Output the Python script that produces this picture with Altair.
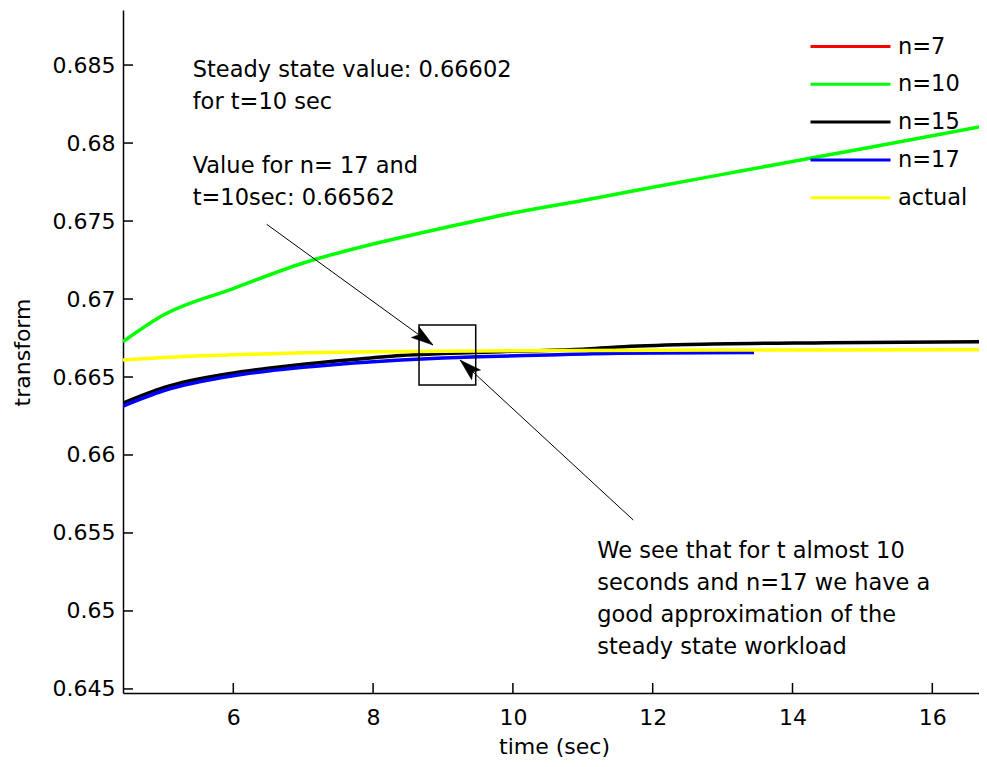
import altair as alt
import pandas as pd

# ---------------- data ----------------
series_names = ["n=7", "n=10", "n=15", "n=17", "actual"]
series_colors = ["#ff0000", "#00ff00", "#000000", "#0000ff", "#ffff00"]

t_n10 = [4.422, 5.0, 6.0, 7.0, 8.0, 9.0, 10.0, 11.0, 12.0, 13.0, 14.0, 15.0, 16.0, 16.782]
v_n10 = [0.66726, 0.66897, 0.67067, 0.67231, 0.67353, 0.67455, 0.67551, 0.67632, 0.67716,
         0.67799, 0.67882, 0.67964, 0.68047, 0.68113]

t_n15 = [4.422, 5.0, 6.0, 6.5, 7.0, 8.0, 8.4, 9.0, 10.0, 11.0, 11.5, 12.5, 14.5, 16.782]
v_n15 = [0.66333, 0.66432, 0.66526, 0.66556, 0.66582, 0.66624, 0.66638, 0.66650, 0.66665,
         0.66678, 0.66692, 0.66708, 0.66720, 0.66727]

t_n17 = [4.422, 5.0, 6.0, 6.5, 7.0, 8.0, 8.4, 9.0, 9.5, 10.5, 11.5, 13.45]
v_n17 = [0.66314, 0.66412, 0.66508, 0.66538, 0.66562, 0.66598, 0.66609, 0.66622, 0.66630,
         0.66641, 0.66652, 0.66657]

t_act = [4.422, 5.0, 6.0, 7.0, 8.0, 10.0, 12.0, 14.0, 16.782]
v_act = [0.66609, 0.66625, 0.66643, 0.66655, 0.66662, 0.66668, 0.66672, 0.66673, 0.66675]

x_ticks = [6, 8, 10, 12, 14, 16]
y_ticks = [0.645, 0.65, 0.655, 0.66, 0.665, 0.67, 0.675, 0.68, 0.685]

note_x = [5.419, 5.419, 11.207]
note_y = [0.68421, 0.67806, 0.65338]
note_text = [
    "Steady state value: 0.66602\nfor t=10 sec",
    "Value for n= 17 and\nt=10sec: 0.66562",
    "We see that for t almost 10\nseconds and n=17 we have a\ngood approximation of the\nsteady state workload",
]

box_x = [8.657, 9.468]
box_y = [0.66833, 0.66449]

arrow_x1 = [6.478, 11.722]
arrow_y1 = [0.67479, 0.65583]
arrow_x2 = [8.857, 9.243]
arrow_y2 = [0.66705, 0.66609]
arrow_angle = [125.9, 312.7]

# ---------------- layout ----------------
X_DOMAIN = [4.422, 16.668]
Y_DOMAIN = [0.64474, 0.68853]
W, H = 856, 683
FONT = "DejaVu Sans"

rows = []
for name, ts, vs in [("n=10", t_n10, v_n10), ("n=15", t_n15, v_n15),
                     ("n=17", t_n17, v_n17), ("actual", t_act, v_act)]:
    for i, (t, v) in enumerate(zip(ts, vs)):
        rows.append({"series": name, "t": t, "v": v, "order": i})
df = pd.DataFrame(rows)

xscale = alt.Scale(domain=X_DOMAIN, nice=False, zero=False)
yscale = alt.Scale(domain=Y_DOMAIN, nice=False, zero=False)
cscale = alt.Scale(domain=series_names, range=series_colors)

x_axis = alt.Axis(values=x_ticks, title="time (sec)", ticks=False, grid=False,
                  domainColor="black", domainWidth=1.5,
                  labelFont=FONT, labelFontSize=22, labelColor="black", labelPadding=14,
                  titleFont=FONT, titleFontSize=22, titleFontWeight="normal", titleColor="black",
                  titleX=431, titleY=60, titleBaseline="alphabetic")
y_axis = alt.Axis(values=y_ticks, format=".3~f", title="transform", ticks=False, grid=False,
                  domainColor="black", domainWidth=1.5,
                  labelFont=FONT, labelFontSize=22, labelColor="black", labelPadding=8,
                  titleFont=FONT, titleFontSize=22, titleFontWeight="normal", titleColor="black",
                  titleAngle=270, titleBaseline="alphabetic", titleAlign="center",
                  titleX=-94, titleY=342)


def X(field):
    return alt.X(field, type="quantitative", scale=xscale, axis=x_axis)


def Y(field):
    return alt.Y(field, type="quantitative", scale=yscale, axis=y_axis)


legend = alt.Legend(orient="none", legendX=686, legendY=18, title=None,
                    symbolType="stroke", symbolSize=6400, symbolStrokeWidth=3,
                    labelFont=FONT, labelFontSize=22.5, labelColor="black",
                    clipHeight=37, rowPadding=0.8, labelOffset=6, padding=0)

base = alt.Chart(df)

layers = []
for name in ["n=10", "n=15", "n=17", "actual"]:
    layer = base.transform_filter(alt.datum.series == name).mark_line(
        strokeWidth=3.5, clip=True, interpolate="monotone"
    ).encode(
        x=X("t"),
        y=Y("v"),
        color=alt.Color("series:N", scale=cscale, legend=legend),
        order="order:Q",
    )
    layers.append(layer)

# inward tick marks
xt = alt.Chart(pd.DataFrame({"t": x_ticks})).mark_rule(color="black", strokeWidth=1.5).encode(
    x=X("t"), y=alt.value(H - 10), y2=alt.value(H))
yt = alt.Chart(pd.DataFrame({"v": y_ticks})).mark_rule(color="black", strokeWidth=1.5).encode(
    y=Y("v"), x=alt.value(0), x2=alt.value(10))

# annotations
notes = alt.Chart(pd.DataFrame({"t": note_x, "v": note_y, "label": note_text})).mark_text(
    align="left", baseline="alphabetic", lineBreak="\n", lineHeight=32,
    font=FONT, fontSize=22.5, color="black"
).encode(x=X("t"), y=Y("v"), text="label:N")

box = alt.Chart(pd.DataFrame({"t": [box_x[0]], "t2": [box_x[1]], "v": [box_y[0]], "v2": [box_y[1]]})).mark_rect(
    fill=None, fillOpacity=0, stroke="black", strokeWidth=1.5
).encode(x=X("t"), x2="t2:Q", y=Y("v"), y2="v2:Q")

arrow_df = pd.DataFrame({"t": arrow_x1, "v": arrow_y1, "t2": arrow_x2, "v2": arrow_y2,
                         "ang": arrow_angle})
arrow_lines = alt.Chart(arrow_df).mark_rule(color="black", strokeWidth=1).encode(
    x=X("t"), x2="t2:Q", y=Y("v"), y2="v2:Q")
arrow_heads = alt.Chart(arrow_df).mark_point(
    shape="M0,0 L-0.6,2 L0,1.6 L0.6,2 Z", filled=True, fill="black", stroke="black",
    strokeWidth=0.5, size=480, opacity=1
).encode(x=X("t2"), y=Y("v2"), angle=alt.Angle("ang:Q", scale=None))

chart = alt.layer(*layers, xt, yt, box, arrow_lines, arrow_heads, notes).properties(
    width=W, height=H,
    autosize=alt.AutoSizeParams(type="none"),
    padding={"left": 115, "top": 2, "right": 0, "bottom": 65},
    background="white",
).configure_view(stroke=None)

chart.save("out.html", embed_options={"renderer": "svg", "actions": False})
